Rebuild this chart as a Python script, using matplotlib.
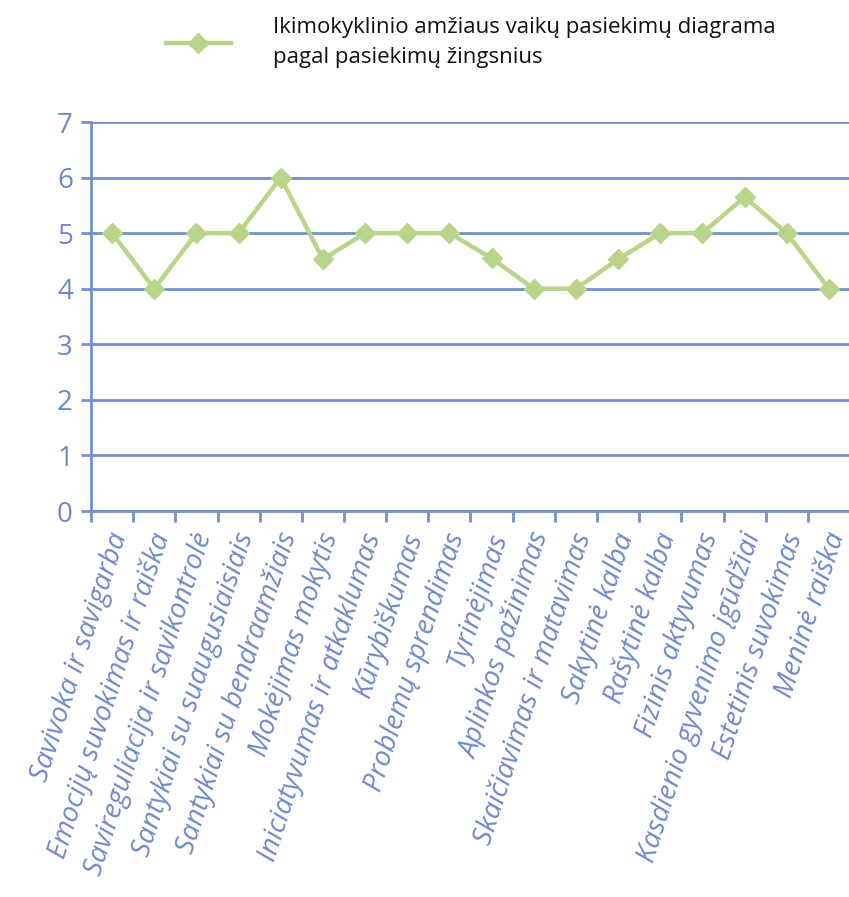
import numpy as np
import matplotlib
matplotlib.use('Agg')
import matplotlib.pyplot as plt
from matplotlib.transforms import offset_copy

categories = ['Savivoka ir savigarba', 'Emocijų suvokimas ir raiška',
              'Savireguliacija ir savikontrolė', 'Santykiai su suaugusiaisiais',
              'Santykiai su bendraamžiais', 'Mokėjimas mokytis',
              'Iniciatyvumas ir atkaklumas', 'Kūrybiškumas', 'Problemų sprendimas',
              'Tyrinėjimas', 'Aplinkos pažinimas', 'Skaičiavimas ir matavimas',
              'Sakytinė kalba', 'Rašytinė kalba', 'Fizinis aktyvumas',
              'Kasdienio gyvenimo įgūdžiai', 'Estetinis suvokimas', 'Meninė raiška']
values = [5, 4, 5, 5, 6, 4.53, 5, 5, 5, 4.55, 4, 4, 4.53, 5, 5, 5.65, 5, 4]
yticks = [0, 1, 2, 3, 4, 5, 6, 7]
series_name = 'Ikimokyklinio amžiaus vaikų pasiekimų diagrama\npagal pasiekimų žingsnius'

blue = '#7390cc'
label_blue = '#6f88c8'
green = '#b8d58a'

plt.rcParams['font.family'] = ['Open Sans', 'DejaVu Sans']

fig = plt.figure(figsize=(8.49, 8.97), dpi=100)
ax = fig.add_axes([91 / 849, 1 - 511 / 897, 759 / 849, 389 / 897])

x = np.arange(len(categories))
ax.plot(x, values, color=green, lw=3.2, marker='D', markersize=10.5,
        label=series_name, clip_on=False, zorder=3)

ax.set_xlim(-0.5, len(categories) - 0.5)
ax.set_ylim(0, 7)
ax.set_yticks(yticks)
ax.yaxis.grid(True, color=blue, lw=2)
ax.set_axisbelow(True)
for s in ['top', 'right']:
    ax.spines[s].set_visible(False)
for s in ['left', 'bottom']:
    ax.spines[s].set_color(blue)
    ax.spines[s].set_linewidth(2)

ax.tick_params(axis='y', colors=blue, labelcolor=label_blue, labelsize=20,
               length=7, width=2, pad=6)
ax.set_xticks(np.arange(len(categories) + 1) - 0.5)
ax.set_xticklabels([])
ax.tick_params(axis='x', which='major', colors=blue, length=8, width=2)
ax.set_xticks(x, minor=True)
ax.set_xticklabels(categories, minor=True, rotation=72, rotation_mode='anchor',
                   ha='right', va='top', fontsize=20, color=label_blue,
                   style='italic')
ax.tick_params(axis='x', which='minor', length=0, pad=13)
# nudge the rotated labels a little to the left
for lbl in ax.get_xticklabels(minor=True):
    lbl.set_transform(offset_copy(lbl.get_transform(), fig=fig, x=-5, y=0,
                                  units='dots'))

leg = ax.legend(loc='upper left', bbox_to_anchor=(155 / 849, 1 - 6 / 897),
                bbox_transform=fig.transFigure, frameon=False, fontsize=16,
                handlelength=2.9, handletextpad=1.9, borderpad=0)
for t in leg.get_texts():
    t.set_color('#111111')
    t.set_linespacing(1.55)

fig.savefig('out.png', dpi=100)
